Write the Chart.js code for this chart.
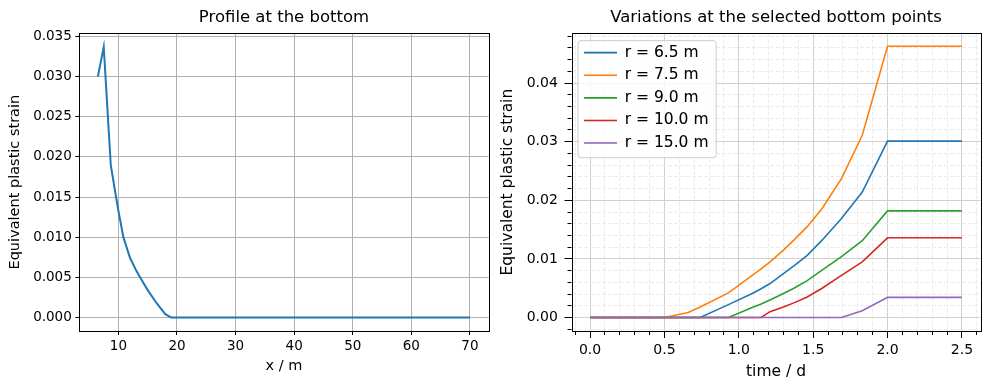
<!DOCTYPE html>
<html>
<head>
<meta charset="utf-8">
<script src="https://cdn.jsdelivr.net/npm/chart.js@4.4.1/dist/chart.umd.min.js"></script>
<style>
  body { margin: 0; background: #fff; }
  #wrap { position: relative; width: 989px; height: 390px; }
  canvas { position: absolute; top: 0; }
</style>
</head>
<body>
<div id="wrap">
  <canvas id="profileChart" width="494" height="390" style="left:0"></canvas>
  <canvas id="variationChart" width="495" height="390" style="left:494px"></canvas>
</div>
<script>
// left panel: strain profile along the bottom (x in m)
const profileX = [6.5, 7.5, 8.7, 9.6, 10.0, 10.85, 12.0, 13.0, 13.7, 15.0, 16.5, 18.0, 19.0, 20, 30, 40, 50, 60, 70];
const profileStrain = [0.0300, 0.0337, 0.0190, 0.0150, 0.0133, 0.0100, 0.0074, 0.0059, 0.0050, 0.0034, 0.0018, 0.0004, 0.0, 0, 0, 0, 0, 0, 0];

// right panel: strain vs time at selected points
const timeDays = [0, 0.5, 0.66, 0.74, 0.93, 1.09, 1.15, 1.21, 1.3, 1.37, 1.46, 1.56, 1.69, 1.83, 2.0, 2.5];
const strainR65 = [0, 0, 0, 0, 0.0022, 0.0041, 0.0049, 0.0058, 0.0075, 0.0088, 0.0106, 0.0132, 0.0169, 0.0214, 0.0301, 0.0301];
const strainR75 = [0, 0, 0.00086, 0.0018, 0.0042, 0.0072, 0.0083, 0.0095, 0.0115, 0.0132, 0.0155, 0.0186, 0.0237, 0.0311, 0.0463, 0.0463];
const strainR90 = [0, 0, 0, 0, 0, 0.0017, 0.0023, 0.0030, 0.0041, 0.0050, 0.0063, 0.0081, 0.0104, 0.0131, 0.0182, 0.0182];
const strainR100 = [0, 0, 0, 0, 0, 0, 0, 0.0010, 0.0018, 0.0025, 0.0035, 0.0050, 0.0072, 0.0095, 0.0136, 0.0136];
const strainR150 = [0, 0, 0, 0, 0, 0, 0, 0, 0, 0, 0, 0, 0, 0.00116, 0.00344, 0.00344];
const seriesLabels = ['r = 6.5 m', 'r = 7.5 m', 'r = 9.0 m', 'r = 10.0 m', 'r = 15.0 m'];
const seriesColors = ['#1f77b4', '#ff7f0e', '#2ca02c', '#d62728', '#9467bd'];

Chart.defaults.font.family = "'DejaVu Sans', sans-serif";
Chart.defaults.color = '#000';

function onStep(v, step) {
	return Math.abs(v / step - Math.round(v / step)) < 1e-6;
}

// black box round the plot area (matplotlib spines)
const framePlugin = {
	id: 'frame',
	afterDatasetsDraw(chart) {
		const { ctx, chartArea: a } = chart;
		const l = Math.round(a.left) + 0.5, t = Math.round(a.top) + 0.5;
		const r = Math.round(a.right) + 0.5, b = Math.round(a.bottom) + 0.5;
		ctx.save();
		ctx.strokeStyle = '#000';
		ctx.lineWidth = 1;
		ctx.strokeRect(l, t, r - l, b - t);
		ctx.restore();
	}
};

// legend inside the plot, upper left, with a rounded box
const LEGEND_OFFSET = { x: 5.4, y: 4.5 };
const legendFramePlugin = {
	id: 'legendFrame',
	afterLayout(chart) {
		const lg = chart.legend, a = chart.chartArea;
		lg.left = a.left + LEGEND_OFFSET.x;
		lg.top = a.top + LEGEND_OFFSET.y;
		lg.right = a.right;
		lg.bottom = a.bottom;
	},
	afterDatasetsDraw(chart) {
		const lg = chart.legend, ctx = chart.ctx;
		const lab = lg.options.labels;
		const pad = lab.padding, fs = lab.font.size;
		ctx.save();
		ctx.font = fs + "px 'DejaVu Sans'";
		const textW = Math.max(...seriesLabels.map(s => ctx.measureText(s).width));
		const firstMid = lg.top + pad + fs / 2;
		const lastMid = firstMid + (seriesLabels.length - 1) * (fs + pad);
		const x0 = lg.left + pad - 6;
		const x1 = lg.left + pad + lab.boxWidth + fs / 2 + textW + 7.7;
		const y0 = firstMid - 12, y1 = lastMid + 14.7;
		ctx.beginPath();
		if (ctx.roundRect) ctx.roundRect(x0, y0, x1 - x0, y1 - y0, 3);
		else ctx.rect(x0, y0, x1 - x0, y1 - y0);
		ctx.fillStyle = 'rgba(255,255,255,0.8)';
		ctx.fill();
		ctx.strokeStyle = '#cccccc';
		ctx.lineWidth = 1;
		ctx.stroke();
		ctx.restore();
		lg.draw();
	}
};

// 1. Profile at the bottom
new Chart(document.getElementById('profileChart'), {
	type: 'line',
	data: {
		datasets: [{
			data: profileX.map((x, i) => ({ x: x, y: profileStrain[i] })),
			borderColor: '#1f77b4',
			backgroundColor: '#1f77b4',
			borderWidth: 2,
			pointRadius: 0,
			tension: 0,
			fill: false
		}]
	},
	options: {
		responsive: false,
		animation: false,
		layout: { padding: { left: 0, right: 5.3, top: 0, bottom: 0 } },
		plugins: {
			legend: { display: false },
			tooltip: { enabled: false },
			title: {
				display: true,
				fullSize: false,
				text: 'Profile at the bottom',
				color: '#000',
				font: { size: 16.5, weight: 'normal' },
				padding: { top: 7.9, bottom: 5.6 }
			}
		},
		scales: {
			x: {
				type: 'linear',
				min: 3.33,
				max: 73.2,
				afterFit: s => { s.height = 59; },
				ticks: {
					stepSize: 10,
					includeBounds: false,
					autoSkip: false,
					maxRotation: 0,
					padding: 3.6,
					font: { size: 13.5 },
					callback: v => String(v)
				},
				grid: { color: '#b0b0b0', lineWidth: 1, tickColor: '#000', tickLength: 4 },
				border: { display: false },
				title: { display: true, text: 'x / m', font: { size: 14.5 }, padding: { top: 0, bottom: 14.6 } }
			},
			y: {
				min: -0.00169,
				max: 0.03539,
				afterFit: s => { s.width = 79.3; },
				ticks: {
					stepSize: 0.005,
					includeBounds: false,
					autoSkip: false,
					padding: 3.5,
					font: { size: 13.5 },
					callback: v => v.toFixed(3)
				},
				grid: { color: '#b0b0b0', lineWidth: 1, tickColor: '#000', tickLength: 4 },
				border: { display: false },
				title: { display: true, text: 'Equivalent plastic strain', font: { size: 14.5 }, padding: { top: 6.3, bottom: 0 } }
			}
		}
	},
	plugins: [framePlugin]
});

// 2. Variations at the selected bottom points
const seriesData = [strainR65, strainR75, strainR90, strainR100, strainR150];
const minorDash = ctx => (ctx.tick && !onStep(ctx.tick.value, ctx.scale.axis === 'x' ? 0.5 : 0.01)) ? [4, 2] : [];
const gridColor = ctx => (ctx.tick && onStep(ctx.tick.value, ctx.scale.axis === 'x' ? 0.5 : 0.01)) ? '#d0d0d0' : '#ebebeb';

new Chart(document.getElementById('variationChart'), {
	type: 'line',
	data: {
		datasets: seriesData.map((vals, k) => ({
			label: seriesLabels[k],
			data: timeDays.map((t, i) => ({ x: t, y: vals[i] })),
			borderColor: seriesColors[k],
			backgroundColor: seriesColors[k],
			borderWidth: 1.6,
			pointRadius: 0,
			tension: 0,
			fill: false,
			order: seriesData.length - k
		}))
	},
	options: {
		responsive: false,
		animation: false,
		layout: { padding: { left: 0, right: 8.5, top: 0, bottom: 0 } },
		plugins: {
			tooltip: { enabled: false },
			title: {
				display: true,
				fullSize: false,
				text: 'Variations at the selected bottom points',
				color: '#000',
				font: { size: 16.5, weight: 'normal' },
				padding: { top: 7.9, bottom: 5.6 }
			},
			legend: {
				position: 'chartArea',
				align: 'start',
				labels: {
					usePointStyle: true,
					pointStyle: 'line',
					pointStyleWidth: 33,
					boxWidth: 33,
					boxHeight: 15.5,
					padding: 7.1,
					color: '#000',
					font: { size: 15.5 },
					sort: (a, b) => a.datasetIndex - b.datasetIndex
				}
			}
		},
		scales: {
			x: {
				type: 'linear',
				min: -0.125,
				max: 2.625,
				afterFit: s => { s.height = 59; },
				ticks: {
					stepSize: 0.1,
					includeBounds: false,
					autoSkip: false,
					maxRotation: 0,
					padding: 4.3,
					font: { size: 14 },
					callback: v => onStep(v, 0.5) ? v.toFixed(1) : ''
				},
				grid: {
					color: gridColor,
					lineWidth: 1,
					borderDash: minorDash,
					tickColor: '#000',
					tickLength: 7,
					tickBorderDash: ctx => (ctx.tick && !onStep(ctx.tick.value, 0.5)) ? [4, 100] : []
				},
				border: { display: false, dash: minorDash },
				title: { display: true, text: 'time / d', font: { size: 15.5 }, padding: { top: 0, bottom: 9 } }
			},
			y: {
				min: -0.0023,
				max: 0.0485,
				afterFit: s => { s.width = 77.5; },
				ticks: {
					stepSize: 0.002,
					includeBounds: false,
					autoSkip: false,
					padding: 6.7,
					font: { size: 14 },
					callback: v => onStep(v, 0.01) ? v.toFixed(2) : ''
				},
				grid: {
					color: gridColor,
					lineWidth: 1,
					borderDash: minorDash,
					tickColor: '#000',
					tickLength: 7,
					tickBorderDash: ctx => (ctx.tick && !onStep(ctx.tick.value, 0.01)) ? [0, 3, 4, 100] : []
				},
				border: { display: false, dash: minorDash },
				title: { display: true, text: 'Equivalent plastic strain', font: { size: 15.5 }, padding: { top: 4.7, bottom: 0 } }
			}
		}
	},
	plugins: [framePlugin, legendFramePlugin]
});
</script>
</body>
</html>
